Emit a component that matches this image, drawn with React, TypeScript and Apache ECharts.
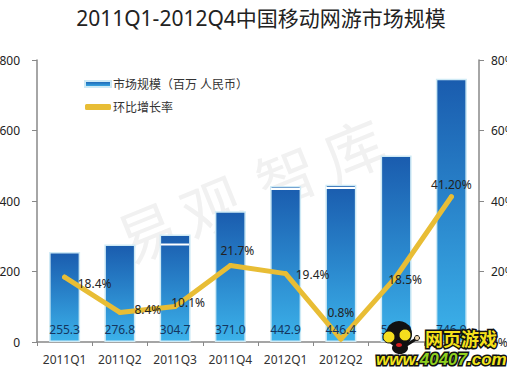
import React, { useEffect, useRef } from "react";
import * as echarts from "echarts";

const categories = ["2011Q1", "2011Q2", "2011Q3", "2011Q4", "2012Q1", "2012Q2", "2012Q3", "2012Q4"];
const marketSize = [255.3, 276.8, 304.7, 371.0, 442.9, 446.4, 529.0, 746.9];
const growthRate = [18.4, 8.4, 10.1, 21.7, 19.4, 0.8, 18.5, 41.2];
const growthLabels = ["18.4%", "8.4%", "10.1%", "21.7%", "19.4%", "0.8%", "18.5%", "41.20%"];
const growthLabelOffsets = [[30, 6], [28, -3], [13, -4], [7, -15], [27, 1], [0, -27], [9, 3], [0, -12]];
const barName = "市场规模（百万 人民币）";
const lineName = "环比增长率";
const titleText = "2011Q1-2012Q4中国移动网游市场规模";
const watermarkChars = ["易", "观", "智", "库"];
const watermarkCentres = [[147, 233], [212, 207], [287, 177], [354, 150]];

const FONT = '"Noto Sans", "Noto Sans CJK SC", sans-serif';
const LINE_COLOR = "#e8bd35";

export default function App() {
  const ref = useRef<HTMLDivElement>(null);
  useEffect(() => {
    document.body.style.margin = "0";
    const chart = echarts.init(ref.current!, undefined, { renderer: "svg" });
    const barGradient = new echarts.graphic.LinearGradient(0, 0, 0, 1, [
      { offset: 0, color: "#1a5cae" },
      { offset: 0.5, color: "#2a86cc" },
      { offset: 1, color: "#3cb2ea" },
    ]);
    const logoStroke = { stroke: "#111", lineWidth: 3, lineJoin: "round" };
    chart.setOption({
      animation: false,
      backgroundColor: "#fff",
      textStyle: { fontFamily: FONT },
      title: {
        text: titleText,
        left: 256,
        top: 2,
        textAlign: "center",
        textStyle: { fontFamily: FONT, fontSize: 21, fontWeight: "normal", color: "#222" },
      },
      legend: {
        left: 79,
        top: 73,
        orient: "vertical",
        itemWidth: 26,
        itemHeight: 6,
        itemGap: 11,
        textStyle: { fontFamily: FONT, fontSize: 12, color: "#333", padding: [0, 0, 0, -3] },
        data: [
          { name: barName, icon: "rect" },
          { name: lineName, icon: "roundRect" },
        ],
      },
      grid: { left: 37, right: 28, top: 60, bottom: 32, outerBoundsMode: "none" },
      xAxis: {
        type: "category",
        data: categories,
        axisLine: { lineStyle: { color: "#888", width: 1.5 } },
        axisTick: { show: true, length: 4, lineStyle: { color: "#888" } },
        axisLabel: { color: "#333", fontSize: 12, margin: 11, fontFamily: FONT, interval: 0 },
      },
      yAxis: [
        {
          type: "value",
          min: 0,
          max: 800,
          interval: 200,
          splitLine: { show: false },
          axisLine: { show: true, lineStyle: { color: "#888", width: 1.5 } },
          axisTick: { show: true, length: 5, lineStyle: { color: "#888" } },
          axisLabel: { color: "#222", fontSize: 12, margin: 17, fontFamily: FONT },
        },
        {
          type: "value",
          min: 0,
          max: 80,
          interval: 20,
          splitLine: { show: false },
          axisLine: { show: true, lineStyle: { color: "#888", width: 1.5 } },
          axisTick: { show: true, length: 5, lineStyle: { color: "#888" } },
          axisLabel: { color: "#222", fontSize: 12, margin: 12, fontFamily: FONT, formatter: "{value}%" },
        },
      ],
      series: [
        {
          name: barName,
          type: "bar",
          yAxisIndex: 0,
          barWidth: 31,
          barGap: "-100%",
          data: marketSize,
          itemStyle: { color: barGradient, borderColor: "#cfeaf5", borderWidth: 1.5 },
        },
        {
          name: lineName,
          type: "line",
          yAxisIndex: 1,
          smooth: false,
          symbol: "circle",
          symbolSize: 5,
          z: 5,
          lineStyle: { color: LINE_COLOR, width: 5, cap: "round", join: "round" },
          itemStyle: { color: LINE_COLOR },
          data: growthRate.map((value, i) => ({
            value,
            label: {
              show: true,
              position: "inside",
              offset: growthLabelOffsets[i],
              formatter: growthLabels[i],
              color: "#222",
              fontSize: 12,
              fontFamily: FONT,
            },
          })),
        },
        {
          name: "市场规模数值",
          type: "bar",
          yAxisIndex: 0,
          barWidth: 31,
          barGap: "-100%",
          z: 6,
          silent: true,
          data: marketSize,
          itemStyle: { color: "rgba(0,0,0,0)" },
          label: {
            show: true,
            position: "insideBottom",
            distance: 7,
            color: "#14365f",
            fontSize: 12,
            fontFamily: FONT,
            formatter: (p: any) => p.value.toFixed(1),
          },
        },
      ],
      graphic: [
        ...watermarkChars.map((ch, i) => ({
          type: "text",
          z: 0,
          x: watermarkCentres[i][0],
          y: watermarkCentres[i][1],
          rotation: (22 * Math.PI) / 180,
          style: {
            text: ch,
            fill: "#f1f1f1",
            font: `60px ${FONT}`,
            textAlign: "center",
            textVerticalAlign: "middle",
          },
        })),
        { type: "rect", z: 100, shape: { x: 161, y: 243.5, width: 28, height: 2 }, style: { fill: "#fff" } },
        { type: "rect", z: 100, shape: { x: 271, y: 188, width: 29, height: 2 }, style: { fill: "#fff" } },
        { type: "rect", z: 100, shape: { x: 326, y: 187, width: 29, height: 2 }, style: { fill: "#fff" } },
        { type: "rect", z: 100, shape: { x: 372, y: 346, width: 132, height: 28 }, style: { fill: "#fff" } },
        { type: "circle", z: 101, shape: { cx: 399, cy: 334, r: 13 }, style: { fill: "#111" } },
        { type: "ellipse", z: 101, shape: { cx: 400, cy: 348, rx: 8, ry: 6 }, style: { fill: "#111" } },
        { type: "polyline", z: 101, shape: { points: [[405, 346], [416, 339]] }, style: { stroke: "#111", lineWidth: 3, fill: "none" } },
        { type: "circle", z: 102, shape: { cx: 417, cy: 338, r: 2.5 }, style: { fill: "#f6dcb0", stroke: "#111", lineWidth: 1 } },
        { type: "circle", z: 102, shape: { cx: 389, cy: 337, r: 6 }, style: { fill: "#f4de1e", stroke: "#111", lineWidth: 1 } },
        { type: "circle", z: 102, shape: { cx: 405, cy: 335, r: 6 }, style: { fill: "#f4de1e", stroke: "#111", lineWidth: 1 } },
        { type: "ellipse", z: 102, shape: { cx: 399, cy: 345, rx: 3, ry: 2 }, style: { fill: "#d81e1e" } },
        {
          type: "text",
          z: 103,
          x: 461,
          y: 338,
          style: {
            text: "网页游戏",
            fill: "#f6e21a",
            font: `bold 18px "Noto Sans CJK SC", sans-serif`,
            textAlign: "center",
            textVerticalAlign: "middle",
            ...logoStroke,
          },
        },
        {
          type: "text",
          z: 103,
          x: 376,
          y: 359,
          style: {
            text: "{a|www.}{b|40407}{a|.com}",
            textVerticalAlign: "middle",
            rich: {
              a: { fill: "#f2e41c", font: 'italic bold 17px "Liberation Sans", sans-serif', ...logoStroke },
              b: { fill: "#8fd01e", font: 'italic bold 17px "Liberation Sans", sans-serif', ...logoStroke },
            },
          },
        },
      ],
    });
    return () => chart.dispose();
  }, []);
  return <div ref={ref} style={{ width: 507, height: 374 }} />;
}
